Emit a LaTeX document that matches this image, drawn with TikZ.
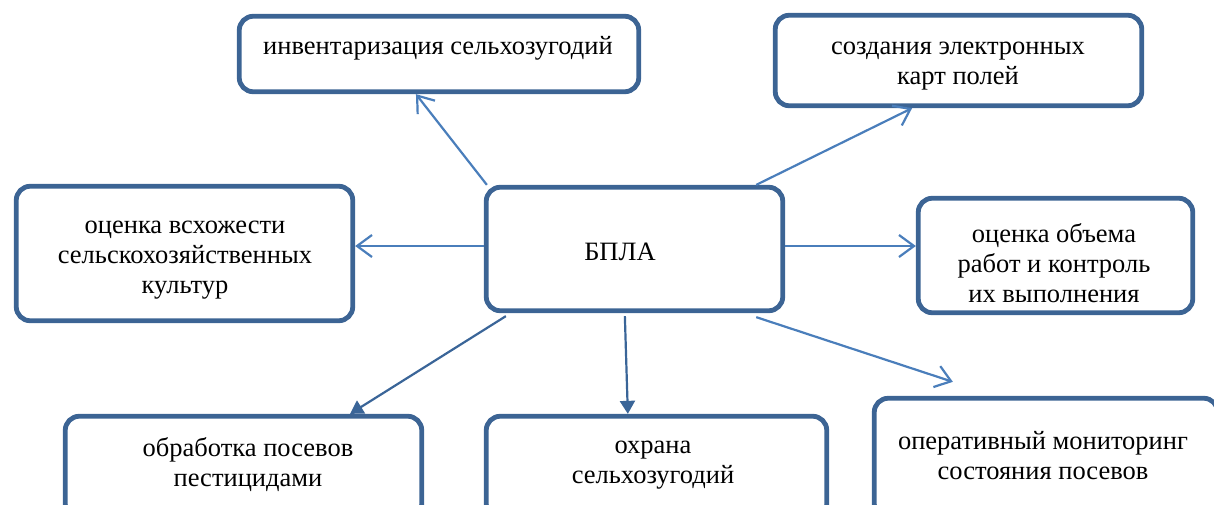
\documentclass[tikz,border=0pt]{standalone}
\usepackage{fontspec}
\setmainfont{Liberation Serif}
\usetikzlibrary{arrows.meta,calc}
\definecolor{boxline}{HTML}{3C6494}
\definecolor{openarr}{HTML}{4A7EBB}
\definecolor{fillarr}{HTML}{3A6598}
\tikzset{
  box/.style={draw=boxline, line width=4.8pt, rounded corners=14pt, fill=white, inner sep=0pt},
  lbl/.style={align=center, font=\fontsize{26.5}{30}\selectfont, inner sep=0pt},
  openline/.style={draw=openarr, line width=2.2pt, -{Straight Barb[length=15pt,width=22pt,line width=2.2pt]}},
  fillline/.style={draw=fillarr, line width=2.2pt, -{Triangle[length=13pt,width=15pt]}}
}
\begin{document}
\begin{tikzpicture}[x=1pt,y=-1pt]
\useasboundingbox (0,0) rectangle (1214,504);
\clip (0,0) rectangle (1214,504);
\node[box, minimum width=399.5pt, minimum height=75.5pt] (A) at (439,54) {};
\node[box, minimum width=366.5pt, minimum height=90.5pt] (B) at (958.5,60.5) {};
\node[box, minimum width=336.5pt, minimum height=134.5pt] (C) at (184.5,253.5) {};
\node[box, minimum width=296.5pt, minimum height=123.5pt] (D) at (634.5,249) {};
\node[box, minimum width=274.5pt, minimum height=114.5pt] (E) at (1055.5,255.5) {};
\node[box, minimum width=356.5pt, minimum height=101.5pt] (F) at (243.5,467) {};
\node[box, minimum width=340.5pt, minimum height=101.5pt] (G) at (656.5,467) {};
\node[box, minimum width=343.5pt, minimum height=119.5pt] (H) at (1046,458) {};

\node[lbl] (tA) at (438,48) {инвентаризация сельхозугодий};
\node[lbl] (tB) at (958,66) {создания электронных\\карт полей};
\node[lbl] (tC) at (185,260) {оценка всхожести\\сельскохозяйственных\\культур};
\node[lbl] (tD) at (620,252) {БПЛА};
\node[lbl] (tE) at (1054,263) {оценка объема\\работ и контроль\\их выполнения};
\node[lbl] (tF) at (248,465) {обработка посевов\\пестицидами};
\node[lbl] (tG) at (653,465) {охрана\\сельхозугодий};
\node[lbl] (tH) at (1043,456) {оперативный мониторинг\\состояния посевов};

\coordinate (hEnd) at ($(H.north west)+(81,-14)$);

\draw[openline] ($(D.north west)!0.01!(D.north east)$) -- ($(A.south west)!0.443!(A.south east)$);
\draw[openline] ($(D.north west)!0.904!(D.north east)$) -- ($(B.south west)!0.375!(B.south east)$);
\draw[openline] ($(D.west)+(0,-3)$) -- ($(D.west -| C.east)+(0,-3)$);
\draw[openline] ($(D.east)+(0,-3)$) -- ($(D.east -| E.west)+(0,-3)$);
\draw[fillline] ($(D.south west)!0.073!(D.south east)+(0,3)$) -- ($(F.north west)!0.795!(F.north east)$);
\draw[fillline] ($(D.south west)!0.468!(D.south east)+(0,3)$) -- ($(G.north west)!0.417!(G.north east)$);
\draw[openline] ($(D.south west)!0.904!(D.south east)+(0,4)$) -- (hEnd);
\end{tikzpicture}
\end{document}
